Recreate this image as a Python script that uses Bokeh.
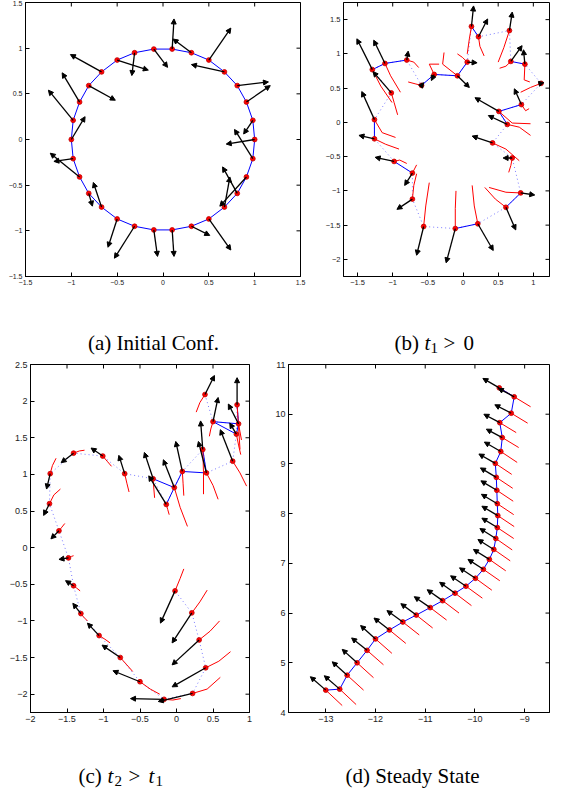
import math
from bokeh.plotting import figure
from bokeh.models import (Range1d, FixedTicker, Arrow, NormalHead,
                          ColumnDataSource, CustomJSTickFormatter)
from bokeh.core.properties import value
from bokeh.layouts import column, row
from bokeh.embed import file_html
from bokeh.resources import INLINE

# ---------------- (a) initial configuration ----------------
a_x = [1.00, 0.98, 0.91, 0.81, 0.67, 0.50, 0.31, 0.10, -0.10, -0.31, -0.50, -0.67, -0.81, -0.91, -0.98,
       -1.00, -0.98, -0.91, -0.81, -0.67, -0.50, -0.31, -0.10, 0.10, 0.31, 0.50, 0.67, 0.81, 0.91, 0.98]
a_y = [0.00, 0.21, 0.41, 0.59, 0.74, 0.87, 0.95, 0.99, 0.99, 0.95, 0.87, 0.74, 0.59, 0.41, 0.21,
       0.00, -0.21, -0.41, -0.59, -0.74, -0.87, -0.95, -0.99, -0.99, -0.95, -0.87, -0.74, -0.59, -0.41, -0.21]
a_tip_x = [0.69, 0.88, 1.17, 1.15, 0.31, 0.74, 0.11, 0.12, 0.05, -0.34, -0.16, -1.01, -0.52, -1.10, -1.25,
           -0.85, -1.19, -1.23, -0.77, -0.76, -0.60, -0.53, -0.06, 0.12, 0.51, 0.74, 0.73, 0.65, 0.62, 0.78]
a_tip_y = [-0.05, 0.06, 0.59, 0.63, 0.82, 1.22, 1.10, 1.32, 0.79, 0.70, 0.76, 0.93, 0.43, 0.73, 0.54,
           0.25, -0.24, -0.15, -0.73, -0.47, -1.18, -1.30, -1.28, -1.28, -1.05, -1.21, -0.41, -0.30, -0.73, 0.11]
a_ticks = [-1.5, -1, -0.5, 0, 0.5, 1, 1.5]

# ---------------- (b) t1 > 0 ----------------
b_x = [0.12, 0.22, 0.66, 0.68, 0.88, 1.11, 0.83, 0.51, 0.63, 0.42, 0.70, 0.82, 0.61, 0.21, -0.11,
       -0.56, -0.72, -0.72, -0.98, -1.26, -1.26, -1.02, -1.29, -1.11, -0.80, -0.59, -0.41, -0.08, 0.06]
b_y = [1.40, 1.25, 1.34, 0.89, 0.85, 0.57, 0.26, 0.16, -0.03, -0.30, -0.52, -1.03, -1.24, -1.48, -1.55,
       -1.52, -1.12, -0.74, -0.57, -0.24, 0.04, 0.43, 0.77, 0.86, 0.91, 0.54, 0.70, 0.68, 0.88]
b_tip_x = [0.15, 0.35, 0.70, 0.84, 0.86, 1.15, 0.73, 0.17, 0.36, 0.13, 0.57, 1.02, 0.75, 0.43, -0.24,
           -0.66, -0.94, -0.83, -1.25, -1.48, -1.44, -1.28, -1.51, -1.27, -0.78, -0.56, -0.45, 0.09, 0.20]
b_tip_y = [1.70, 1.51, 1.61, 1.12, 1.06, 0.58, 0.49, 0.36, 0.10, -0.20, -0.52, -1.06, -1.57, -1.87, -2.05,
           -1.94, -1.27, -0.92, -0.51, -0.19, 0.45, 0.74, 1.22, 1.20, 1.04, 0.58, 0.61, 0.51, 0.87]
b_trail_start_x = [0.06, 0.30, 0.50, 0.52, 0.95, 0.82, 0.94, 0.96, 0.96, 0.80, 0.65, 0.37, 0.31, 0.13, -0.10,
                   -0.48, -0.66, -0.66, -0.80, -0.91, -0.96, -0.93, -1.01, -0.89, -0.63, -0.78, -0.34, -0.27, -0.08]
b_trail_start_y = [1.00, 0.97, 0.88, 0.79, 0.59, 0.44, 0.20, -0.02, -0.19, -0.56, -0.73, -0.95, -0.95, -0.92, -1.00,
                   -0.88, -0.75, -0.62, -0.60, -0.39, -0.22, 0.11, 0.29, 0.44, 0.80, 0.59, 0.85, 1.02, 1.00]
b_trail_mid_x = [0.09, 0.24, 0.58, 0.61, 0.87, 0.96, 0.89, 0.70, 0.80, 0.61, 0.68, 0.61, 0.46, 0.16, -0.11,
                 -0.53, -0.70, -0.69, -0.90, -1.10, -1.15, -0.98, -1.17, -1.03, -0.70, -0.67, -0.48, -0.29, -0.01]
b_trail_mid_y = [1.22, 1.11, 1.09, 0.82, 0.62, 0.51, 0.17, -0.01, -0.07, -0.39, -0.63, -1.02, -1.12, -1.22, -1.26,
                 -1.22, -0.92, -0.68, -0.55, -0.32, -0.15, 0.29, 0.53, 0.68, 0.88, 0.56, 0.85, 0.85, 0.95]
b_links = [(22, 23), (23, 24), (25, 26), (26, 27), (27, 28), (0, 1), (3, 4), (6, 7), (7, 8),
           (11, 12), (13, 14), (19, 20), (17, 18)]
b_xticks = [-1.5, -1, -0.5, 0, 0.5, 1]
b_yticks = [-2, -1.5, -1, -0.5, 0, 0.5, 1, 1.5]

# ---------------- (c) t2 > t1 ----------------
c_x = [0.39, 0.50, 0.83, 0.85, 0.82, 0.77, 0.36, 0.41, 0.08, -0.03, -0.32, -0.14, -0.71, -1.01, -1.41,
       -1.73, -1.74, -1.61, -1.48, -1.41, -1.31, -1.06, -0.77, -0.50, -0.17, 0.22, 0.40, 0.31, 0.21, -0.02]
c_y = [2.09, 1.72, 1.95, 1.69, 1.55, 1.18, 1.34, 1.02, 1.04, 0.82, 0.94, 0.59, 1.01, 1.25, 1.29,
       1.01, 0.60, 0.23, -0.14, -0.52, -0.90, -1.20, -1.50, -1.83, -2.07, -1.99, -1.64, -1.26, -0.89, -0.59]
c_tip_x = [0.52, 0.57, 0.83, 0.71, 0.73, 0.60, 0.33, 0.30, -0.01, -0.18, -0.44, -0.38, -0.79, -1.17, -1.58,
           -1.78, -1.82, -1.72, -1.61, -1.52, -1.42, -1.22, -1.02, -0.87, -0.63, -0.25, -0.06, -0.06, -0.06, -0.22]
c_tip_y = [2.35, 2.05, 2.32, 1.96, 1.70, 1.61, 1.73, 1.45, 1.45, 1.20, 1.30, 0.98, 1.26, 1.36, 1.16,
           0.80, 0.44, 0.12, -0.16, -0.45, -0.76, -1.03, -1.33, -1.68, -2.06, -2.10, -1.90, -1.60, -1.30, -1.03]
c_trail_start_x = [0.27, 0.45, 0.87, 0.89, 0.88, 0.96, 0.37, 0.57, 0.10, 0.15, -0.30, -0.10, -0.65, -0.89, -1.26,
                   -1.65, -1.59, -1.53, -1.41, -1.32, -1.22, -0.91, -0.60, -0.23, 0.06, 0.60, 0.74, 0.59, 0.42, 0.10]
c_trail_start_y = [1.85, 1.52, 1.34, 1.47, 1.27, 0.84, 0.73, 0.66, 0.71, 0.29, 0.68, 0.45, 0.76, 1.11, 1.33,
                   1.22, 0.80, 0.33, -0.11, -0.59, -1.00, -1.30, -1.69, -2.00, -2.06, -1.77, -1.42, -1.00, -0.58, -0.29]
c_trail_mid_x = [0.32, 0.47, 0.85, 0.87, 0.85, 0.87, 0.37, 0.50, 0.09, 0.05, -0.31, -0.12, -0.68, -0.95, -1.33,
                 -1.70, -1.68, -1.57, -1.44, -1.37, -1.27, -0.98, -0.68, -0.36, -0.05, 0.42, 0.58, 0.46, 0.32, 0.05]
c_trail_mid_y = [1.98, 1.62, 1.65, 1.58, 1.40, 1.02, 1.02, 0.85, 0.88, 0.55, 0.80, 0.52, 0.88, 1.18, 1.32,
                 1.12, 0.72, 0.28, -0.12, -0.55, -0.95, -1.25, -1.60, -1.93, -2.08, -1.93, -1.55, -1.14, -0.74, -0.42]
c_chain = [0, 1, 3, 2, 4, 5, 7, 6, 8, 9, 11, 10, 12, 13, 14, 15, 16, 17, 18, 19, 20, 21, 22, 23, 24, 25, 26, 27, 28, 29]
c_links = [(1, 3), (1, 4), (3, 4), (2, 3), (6, 7), (7, 8), (8, 9), (9, 10), (9, 11)]
c_xticks = [-2, -1.5, -1, -0.5, 0, 0.5, 1]
c_yticks = [-2, -1.5, -1, -0.5, 0, 0.5, 1, 1.5, 2, 2.5]

# ---------------- (d) steady state ----------------
d_x = [-13.00, -12.72, -12.57, -12.37, -12.17, -12.00, -11.72, -11.45, -11.18, -10.90, -10.65, -10.40, -10.18,
       -9.99, -9.83, -9.71, -9.62, -9.58, -9.55, -9.54, -9.55, -9.56, -9.57, -9.59, -9.48, -9.45, -9.50,
       -9.27, -9.21, -9.51]
d_y = [4.45, 4.47, 4.75, 5.00, 5.25, 5.48, 5.66, 5.82, 5.96, 6.11, 6.25, 6.40, 6.54, 6.70, 6.88, 7.08,
       7.28, 7.50, 7.72, 7.96, 8.20, 8.47, 8.73, 9.01, 9.25, 9.53, 9.83, 10.02, 10.35, 10.53]
d_tip_x = [-13.31, -13.03, -12.87, -12.67, -12.48, -12.30, -12.03, -11.77, -11.49, -11.22, -10.96, -10.71,
           -10.49, -10.31, -10.14, -10.03, -9.94, -9.90, -9.86, -9.86, -9.87, -9.88, -9.89, -9.92, -9.81,
           -9.77, -9.82, -9.60, -9.53, -9.84]
d_tip_y = [4.72, 4.74, 5.02, 5.27, 5.50, 5.75, 5.90, 6.05, 6.19, 6.33, 6.47, 6.62, 6.75, 6.91, 7.08, 7.28,
           7.48, 7.70, 7.91, 8.15, 8.39, 8.66, 8.92, 9.20, 9.44, 9.70, 10.00, 10.19, 10.52, 10.72]
d_trail_x = [-12.67, -12.39, -12.24, -12.04, -11.84, -11.67, -11.39, -11.12, -10.85, -10.57, -10.32, -10.07,
             -9.85, -9.66, -9.50, -9.38, -9.29, -9.25, -9.22, -9.21, -9.22, -9.23, -9.24, -9.26, -9.15,
             -9.12, -9.17, -8.94, -8.88, -9.18]
d_trail_y = [4.14, 4.16, 4.45, 4.70, 4.96, 5.19, 5.39, 5.56, 5.70, 5.86, 6.00, 6.15, 6.30, 6.46, 6.65, 6.85,
             7.05, 7.27, 7.50, 7.74, 7.98, 8.25, 8.51, 8.79, 9.03, 9.33, 9.63, 9.82, 10.15, 10.33]
d_xticks = [-13, -12, -11, -10, -9]
d_yticks = [4, 5, 6, 7, 8, 9, 10, 11]

# ---------------- captions ----------------
cap_a = "(a) Initial Conf."
cap_b = ["(b)", "t", "1", ">", "0"]
cap_c = ["(c)", "t", "2", ">", "t", "1"]
cap_d = "(d) Steady State"

SERIF = "'Liberation Serif', 'Times New Roman', serif"
SANS = "'Liberation Sans', Arial, sans-serif"

TICK_FMT = CustomJSTickFormatter(code="""
    const s = Math.abs(tick).toString();
    return tick < 0 ? "\u2212" + s : s;
""")


def style_axis(ax, ticks, fs):
    ax.ticker = FixedTicker(ticks=ticks, minor_ticks=[])
    ax.major_tick_in = 4
    ax.major_tick_out = 0
    ax.minor_tick_line_color = None
    ax.axis_line_color = "black"
    ax.major_tick_line_color = "black"
    ax.formatter = TICK_FMT
    ax.major_label_text_font = SANS
    ax.major_label_text_font_size = f"{fs}px"
    ax.major_label_text_color = "#222222"
    ax.major_label_standoff = 3


def panel(w, h, xr, yr, xt, yt, bl, br, bt, bb, fs):
    p = figure(width=w, height=h, x_range=Range1d(*xr), y_range=Range1d(*yr),
               output_backend="svg", toolbar_location=None,
               min_border_left=bl, min_border_right=br, min_border_top=bt, min_border_bottom=bb)
    p.grid.visible = False
    p.outline_line_color = "black"
    p.outline_line_alpha = 1
    p.outline_line_width = 1
    style_axis(p.xaxis[0], xt, fs)
    style_axis(p.yaxis[0], yt, fs)
    # inward ticks on the top and right edges of the box (half of each dash is clipped away)
    p.scatter(xt, [yr[1]] * len(xt), marker="dash", size=8, angle=math.pi / 2,
              line_color="black", line_width=1)
    p.scatter([xr[1]] * len(yt), yt, marker="dash", size=8, line_color="black", line_width=1)
    return p


def arrows(p, x0, y0, x1, y1):
    src = ColumnDataSource(dict(x0=x0, y0=y0, x1=x1, y1=y1))
    p.add_layout(Arrow(end=NormalHead(size=5, fill_color="black", line_color="black", line_width=1),
                       x_start="x0", y_start="y0", x_end="x1", y_end="y1", source=src,
                       line_color="black", line_width=1.3))


def dots(p, xs, ys):
    p.scatter(xs, ys, size=4.8, fill_color="#ff0000", line_color="#c00000", line_width=0.8)


def cap_fig(height):
    c = figure(width=552, height=height, x_range=Range1d(0, 552), y_range=Range1d(0, height),
               output_backend="svg", toolbar_location=None,
               min_border_left=0, min_border_right=0, min_border_top=0, min_border_bottom=0)
    c.axis.visible = False
    c.grid.visible = False
    c.outline_line_color = None
    return c


def put(c, x, y, txt, size=21, style="normal", align="left"):
    c.text(x=[x], y=[y], text=[txt], text_font=value(SERIF), text_font_size=value(f"{size}px"),
           text_font_style=style, text_align=align, text_baseline="alphabetic", text_color="black")


BLUE = "#0000ff"
DOT = "#7a7aff"

# (a)
pa = panel(310, 300, (-1.5, 1.5), (-1.5, 1.5), a_ticks, a_ticks, 25, 10, 2, 23, 7)
pa.line(a_x + a_x[:1], a_y + a_y[:1], line_color=BLUE, line_width=1)
arrows(pa, a_x, a_y, a_tip_x, a_tip_y)
dots(pa, a_x, a_y)

# (b)
pb = panel(242, 300, (-1.7, 1.23), (-2.25, 1.75), b_xticks, b_yticks, 33, 3, 2, 24, 7.5)
pb.line(b_x + b_x[:1], b_y + b_y[:1], line_color=DOT, line_width=1, line_dash="1 3")
pb.multi_line([[b_x[i], b_x[j]] for i, j in b_links], [[b_y[i], b_y[j]] for i, j in b_links],
              line_color=BLUE, line_width=1)
pb.multi_line([[s, m, e] for s, m, e in zip(b_trail_start_x, b_trail_mid_x, b_x)],
              [[s, m, e] for s, m, e in zip(b_trail_start_y, b_trail_mid_y, b_y)],
              line_color="#ff0000", line_width=1)
arrows(pb, b_x, b_y, b_tip_x, b_tip_y)
dots(pb, b_x, b_y)

# captions row 1
c1 = cap_fig(55)
put(c1, 153, 13, cap_a, align="center")
bx0 = 394
for txt, dx, dy, size, style in zip(cap_b, [0, 30, 36, 49, 69], [0, 0, -5, 0, 0],
                                    [21, 21, 15, 21, 21], ["normal", "italic", "normal", "normal", "normal"]):
    put(c1, bx0 + dx, 13 + dy, txt, size, style)

# (c)
pc = panel(270, 377, (-2, 1), (-2.25, 2.5), c_xticks, c_yticks, 30, 21, 9, 20, 9)
pc.line([c_x[i] for i in c_chain], [c_y[i] for i in c_chain], line_color=DOT, line_width=1, line_dash="1 3")
pc.multi_line([[c_x[i], c_x[j]] for i, j in c_links], [[c_y[i], c_y[j]] for i, j in c_links],
              line_color=BLUE, line_width=1)
pc.multi_line([[s, m, e] for s, m, e in zip(c_trail_start_x, c_trail_mid_x, c_x)],
              [[s, m, e] for s, m, e in zip(c_trail_start_y, c_trail_mid_y, c_y)],
              line_color="#ff0000", line_width=1)
arrows(pc, c_x, c_y, c_tip_x, c_tip_y)
dots(pc, c_x, c_y)

# (d)
pd = panel(282, 377, (-13.75, -8.5), (4, 11), d_xticks, d_yticks, 18, 3, 7, 20, 9)
pd.multi_line([[tx, x] for tx, x in zip(d_trail_x, d_x)], [[ty, y] for ty, y in zip(d_trail_y, d_y)],
              line_color="#ff0000", line_width=1)
pd.line(d_x, d_y, line_color=BLUE, line_width=1)
arrows(pd, d_x, d_y, d_tip_x, d_tip_y)
dots(pd, d_x, d_y)

# captions row 2
c2 = cap_fig(56)
cx0 = 78
for txt, dx, dy, size, style in zip(cap_c, [0, 29, 36, 50, 70, 77], [0, 0, -5, 0, 0, -5],
                                    [21, 21, 15, 21, 21, 15],
                                    ["normal", "italic", "normal", "normal", "italic", "normal"]):
    put(c2, cx0 + dx, 13 + dy, txt, size, style)
put(c2, 412, 13, cap_d, align="center")

layout = column(row(pa, pb), c1, row(pc, pd), c2)
open("out.html", "w").write(file_html(layout, INLINE))
